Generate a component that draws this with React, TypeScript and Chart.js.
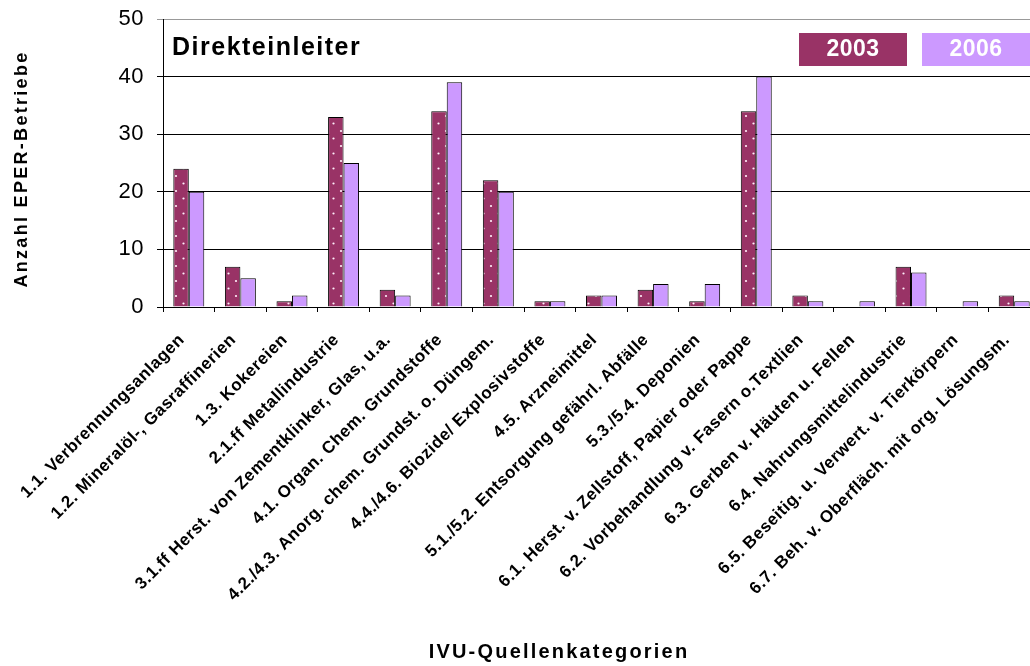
import React, { useEffect, useRef } from "react";
import { Chart, registerables } from "chart.js";

Chart.register(...registerables);

const categories = [
  "1.1. Verbrennungsanlagen",
  "1.2. Mineralöl-, Gasraffinerien",
  "1.3. Kokereien",
  "2.1.ff Metallindustrie",
  "3.1.ff Herst. von Zementklinker, Glas, u.a.",
  "4.1. Organ. Chem. Grundstoffe",
  "4.2./4.3. Anorg. chem. Grundst. o. Düngem.",
  "4.4./4.6. Biozide/ Explosivstoffe",
  "4.5. Arzneimittel",
  "5.1./5.2. Entsorgung gefährl. Abfälle",
  "5.3./5.4. Deponien",
  "6.1. Herst. v. Zellstoff, Papier oder Pappe",
  "6.2. Vorbehandlung v. Fasern o.Textlien",
  "6.3. Gerben v. Häuten u. Fellen",
  "6.4. Nahrungsmittelindustrie",
  "6.5. Beseitig. u. Verwert. v. Tierkörpern",
  "6.7. Beh. v. Oberfläch. mit org. Lösungsm.",
];

const values2003 = [24, 7, 1, 33, 3, 34, 22, 1, 2, 3, 1, 34, 2, 0, 7, 0, 2];
const values2006 = [20, 5, 2, 25, 2, 39, 20, 1, 2, 4, 4, 40, 1, 1, 6, 1, 1];
const seriesLabels = ["2003", "2006"];
const yMin = 0;
const yMax = 50;
const yStep = 10;
const chartTitle = "Direkteinleiter";
const yTitle = "Anzahl EPER-Betriebe";
const xTitle = "IVU-Quellenkategorien";

const DARK = "#993366";
const LIGHT = "#CC99FF";
const FONT = "'Liberation Sans', Arial, Helvetica, sans-serif";

export default function App() {
  const ref = useRef<HTMLCanvasElement>(null);

  useEffect(() => {
    const canvas = ref.current!;
    const ctx = canvas.getContext("2d")!;

    const tile = document.createElement("canvas");
    tile.width = 15;
    tile.height = 15;
    const t = tile.getContext("2d")!;
    t.fillStyle = DARK;
    t.fillRect(0, 0, 15, 15);
    t.fillStyle = "rgba(255,240,250,1)";
    [
      [3.5, 3.5],
      [11, 11],
    ].forEach(([x, y]) => {
      t.beginPath();
      t.arc(x, y, 1.1, 0, Math.PI * 2);
      t.fill();
    });
    const pattern = ctx.createPattern(tile, "repeat")!;

    const overlay = {
      id: "overlay",
      beforeDraw(chart: any) {
        (chart.ctx as any).letterSpacing = "0.5px";
      },
      afterDraw(chart: any) {
        const c = chart.ctx as any;
        c.save();
        c.fillStyle = "#000";
        // chart title
        c.letterSpacing = "1.5px";
        c.font = `bold 25px ${FONT}`;
        c.textAlign = "left";
        c.textBaseline = "middle";
        c.fillText(chartTitle, 172, 48);

        // legend boxes
        const boxes = [
          { x: 799, color: DARK, label: seriesLabels[0] },
          { x: 922, color: LIGHT, label: seriesLabels[1] },
        ];
        c.letterSpacing = "0.5px";
        c.font = `bold 23px ${FONT}`;
        c.textAlign = "center";
        boxes.forEach((b) => {
          c.fillStyle = b.color;
          c.fillRect(b.x, 33, 108, 33);
          c.fillStyle = "#fff";
          c.fillText(b.label, b.x + 54, 50);
        });

        // y axis title
        c.fillStyle = "#000";
        c.letterSpacing = "2.3px";
        c.font = `bold 18px ${FONT}`;
        c.save();
        c.translate(22, 169);
        c.rotate(-Math.PI / 2);
        c.textAlign = "center";
        c.textBaseline = "middle";
        c.fillText(yTitle, 0, 0);
        c.restore();

        // x axis title
        c.letterSpacing = "2.2px";
        c.font = `bold 20px ${FONT}`;
        c.textAlign = "center";
        c.textBaseline = "middle";
        c.fillText(xTitle, 559, 652);
        c.restore();
      },
    };

    const chart = new Chart(canvas, {
      type: "bar",
      data: {
        labels: categories,
        datasets: [
          {
            label: seriesLabels[0],
            data: values2003,
            backgroundColor: pattern as any,
            borderColor: "#000",
            borderWidth: 1,
            categoryPercentage: 0.6,
            barPercentage: 1,
          },
          {
            label: seriesLabels[1],
            data: values2006,
            backgroundColor: LIGHT,
            borderColor: "#000",
            borderWidth: 1,
            categoryPercentage: 0.6,
            barPercentage: 1,
          },
        ],
      },
      options: {
        responsive: false,
        devicePixelRatio: 1,
        animation: false,
        layout: { padding: { top: 19, right: 2, bottom: 0, left: 0 } },
        plugins: {
          legend: { display: false },
          tooltip: { enabled: false },
          title: { display: false },
        },
        scales: {
          x: {
            grid: {
              offset: true,
              drawOnChartArea: false,
              drawTicks: true,
              tickLength: 5,
              color: "#000",
            },
            border: { color: "#000", width: 1 },
            ticks: {
              autoSkip: false,
              minRotation: 45,
              maxRotation: 45,
              padding: 18,
              labelOffset: -7,
              color: "#000",
              font: { family: FONT, size: 17, weight: "bold" },
            },
            afterFit(scale: any) {
              scale.height = 359;
              scale.paddingLeft = 0;
              scale.paddingRight = 0;
            },
          } as any,
          y: {
            min: yMin,
            max: yMax,
            ticks: {
              stepSize: yStep,
              padding: 13,
              color: "#000",
              font: { family: FONT, size: 22 },
            },
            grid: {
              color: (c: any) => (c.tick && c.tick.value === yMax ? "#999" : "#000"),
              tickLength: 6,
              lineWidth: 1,
            },
            border: { color: "#000", width: 1 },
            afterFit(scale: any) {
              scale.width = 163;
              scale.paddingTop = 0;
              scale.paddingBottom = 0;
            },
          } as any,
        },
      },
      plugins: [overlay],
    });

    return () => chart.destroy();
  }, []);

  return (
    <div
      style={{
        position: "absolute",
        left: 0,
        top: 0,
        width: 1030,
        height: 666,
        overflow: "hidden",
        background: "#fff",
      }}
    >
      <canvas ref={ref} width={1042} height={666} style={{ display: "block" }} />
    </div>
  );
}
